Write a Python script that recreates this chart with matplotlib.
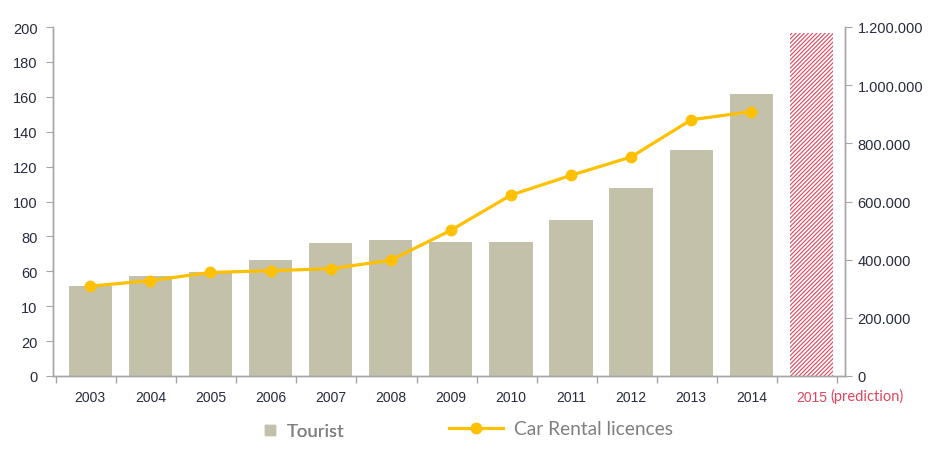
import matplotlib
matplotlib.use("Agg")
import matplotlib.pyplot as plt
import matplotlib.transforms as mtransforms
from matplotlib.lines import Line2D
import numpy as np

years = ["2003", "2004", "2005", "2006", "2007", "2008", "2009",
         "2010", "2011", "2012", "2013", "2014", "2015"]
tourist = [51.5, 57.5, 59.5, 66.5, 76, 78, 77, 77, 89.5, 108, 129.5, 161.5, 196.5]
licences = [309000, 328000, 356000, 362000, 369000, 398000, 501000,
            622000, 690000, 753000, 881000, 909000]
left_ticks = [0, 20, 40, 60, 80, 100, 120, 140, 160, 180, 200]
left_labels = ["0", "20", "10", "60", "80", "100", "120", "140", "160", "180", "200"]
right_ticks = [0, 200000, 400000, 600000, 800000, 1000000, 1200000]
right_labels = ["0", "200.000", "400.000", "600.000", "800.000", "1.000.000", "1.200.000"]

bar_col = "#c4c1ab"
line_col = "#ffc000"
red = "#e0445c"
txt_col = "#262b3d"
spine_col = "#a6a6a6"

plt.rcParams["font.family"] = ["Liberation Sans", "DejaVu Sans"]
plt.rcParams["hatch.linewidth"] = 0.8

fig = plt.figure(figsize=(9.39, 4.52), dpi=100)
ax = fig.add_axes([53 / 939, 75 / 452, 792 / 939, 349 / 452])
ax2 = ax.twinx()

x = np.arange(len(years))
ax.bar(x[:-1], tourist[:-1], width=0.72, color=bar_col, linewidth=0)
ax.bar(x[-1], tourist[-1], width=0.72, color="white", edgecolor=red,
       hatch="////////", linewidth=0)

ax2.plot(x[:-1], licences, color=line_col, lw=2.3, marker="o", ms=7.5)

ax.set_xlim(-0.62, 12.56)
ax.set_ylim(0, 200)
ax2.set_ylim(0, 1200000)

ax.set_yticks(left_ticks)
ax.set_yticklabels(left_labels)
ax2.set_yticks(right_ticks)
ax2.set_yticklabels(right_labels)

ax.set_xticks(x)
ax.set_xticklabels(years)
ax.set_xticks(np.arange(len(years) + 1) - 0.57, minor=True)
ax.tick_params(axis="x", which="major", length=0, pad=10, labelsize=10, labelcolor=txt_col)
ax.tick_params(axis="x", which="minor", length=5, color=spine_col, width=1)
ax.get_xticklabels()[-1].set_color(red)

ax.tick_params(axis="y", length=5, color=spine_col, labelsize=10.5, labelcolor=txt_col, pad=6)
ax2.tick_params(axis="y", length=5, color=spine_col, labelsize=10.5, labelcolor=txt_col, pad=4)

for a in (ax, ax2):
    a.spines["top"].set_visible(False)
    for s in ("left", "right", "bottom"):
        a.spines[s].set_color(spine_col)
        a.spines[s].set_linewidth(1)

trans = mtransforms.blended_transform_factory(ax.transData, ax.transAxes)
ax.text(12.92, -0.055, "(prediction)", transform=trans, color=red, fontsize=10.5,
        ha="center", va="center", family=["Lato", "DejaVu Sans"])

h1 = Line2D([], [], marker="s", ls="none", color=bar_col, ms=7.5)
h2 = Line2D([], [], marker="o", color=line_col, lw=2.3, ms=7.5)
leg1 = fig.legend([h1], ["Tourist"], loc="center left", bbox_to_anchor=(262 / 939, 1 - 432 / 452),
                  frameon=False, borderpad=0, borderaxespad=0, handlelength=0.9, handletextpad=0.45,
                  prop={"family": ["Lato", "DejaVu Sans"], "size": 13.3})
leg2 = fig.legend([h2], ["Car Rental licences"], loc="center left",
                  bbox_to_anchor=(449 / 939, 1 - 430 / 452),
                  frameon=False, borderpad=0, borderaxespad=0, handlelength=2.8, handletextpad=0.6,
                  prop={"family": ["Lato", "DejaVu Sans"], "size": 13.8})
for lg in (leg1, leg2):
    for t in lg.get_texts():
        t.set_color("#7f7f7f")
fig.add_artist(leg1)

fig.savefig("out.png", dpi=100)
